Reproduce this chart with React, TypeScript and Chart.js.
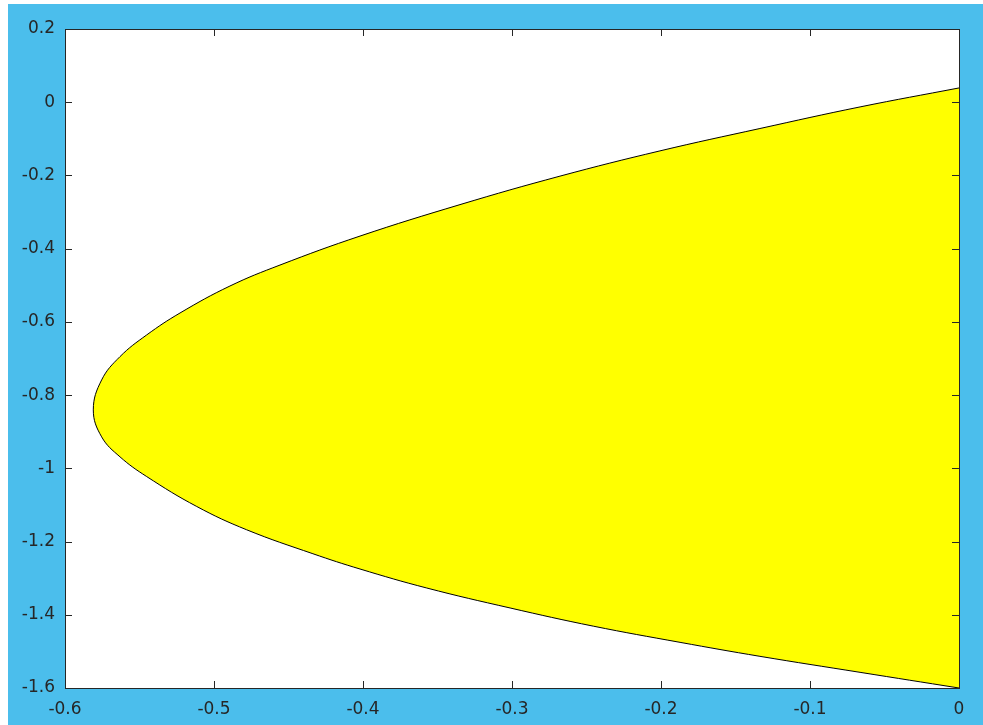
import React, { useEffect, useRef } from "react";
import { Chart, registerables } from "chart.js";

Chart.register(...registerables);

// Upper boundary, from the right edge (x = 0) towards the vertex
const upperX = [0, -0.0664, -0.1336, -0.2007, -0.2678, -0.3349, -0.402, -0.4557, -0.4893, -0.5228, -0.5452, -0.5631, -0.5754, -0.581];
const upperY = [0.039, -0.0128, -0.0718, -0.1329, -0.2019, -0.2797, -0.3656, -0.4447, -0.502, -0.5757, -0.6357, -0.6949, -0.7585, -0.8404];
// Lower boundary, from the vertex back to the right edge
const lowerX = [-0.5754, -0.5631, -0.5452, -0.5116, -0.4781, -0.4336, -0.402, -0.3572, -0.3013, -0.2454, -0.1872, -0.1336, -0.0664, 0];
const lowerY = [-0.9141, -0.9686, -1.0224, -1.1042, -1.1678, -1.2333, -1.275, -1.3269, -1.3814, -1.4311, -1.4753, -1.5135, -1.5572, -1.6];

const xTicks = [-0.6, -0.5, -0.4, -0.3, -0.2, -0.1, 0];
const xTickLabels = ["-0.6", "-0.5", "-0.4", "-0.3", "-0.2", "-0.1", "0"];
const yTicks = [0.2, 0, -0.2, -0.4, -0.6, -0.8, -1, -1.2, -1.4, -1.6];
const yTickLabels = ["0.2", "0", "-0.2", "-0.4", "-0.6", "-0.8", "-1", "-1.2", "-1.4", "-1.6"];

const AXIS_COLOR = "#262626";

const boxPlugin = {
  id: "matlabBox",
  beforeDraw(chart: any) {
    const { ctx, chartArea } = chart;
    ctx.save();
    ctx.fillStyle = "#ffffff";
    ctx.fillRect(chartArea.left, chartArea.top, chartArea.right - chartArea.left, chartArea.bottom - chartArea.top);
    ctx.restore();
  },
  afterDatasetsDraw(chart: any) {
    const { ctx, chartArea } = chart;
    const { left, right, top, bottom } = chartArea;
    const xs = chart.scales.x;
    const ys = chart.scales.y;
    const tl = 7;
    ctx.save();
    ctx.strokeStyle = AXIS_COLOR;
    ctx.lineWidth = 1;
    ctx.beginPath();
    xs.ticks.forEach((t: any) => {
      const px = Math.round(xs.getPixelForValue(t.value)) + 0.5;
      ctx.moveTo(px, bottom);
      ctx.lineTo(px, bottom - tl);
      ctx.moveTo(px, top);
      ctx.lineTo(px, top + tl);
    });
    ys.ticks.forEach((t: any) => {
      const py = Math.round(ys.getPixelForValue(t.value)) + 0.5;
      ctx.moveTo(left, py);
      ctx.lineTo(left + tl, py);
      ctx.moveTo(right, py);
      ctx.lineTo(right - tl, py);
    });
    ctx.stroke();
    ctx.strokeRect(Math.round(left) + 0.5, Math.round(top) + 0.5, Math.round(right - left), Math.round(bottom - top));
    ctx.restore();
  },
};

export default function App() {
  const ref = useRef<HTMLCanvasElement | null>(null);

  useEffect(() => {
    if (!ref.current) return;
    const points = [
      ...upperX.map((x, i) => ({ x, y: upperY[i] })),
      ...lowerX.map((x, i) => ({ x, y: lowerY[i] })),
    ];
    const font = { family: "'DejaVu Sans', sans-serif", size: 17 };
    const chart = new Chart(ref.current, {
      type: "line",
      data: {
        datasets: [
          {
            data: points,
            borderColor: "#000000",
            borderWidth: 1,
            backgroundColor: "#ffff00",
            fill: "shape",
            tension: 0.4,
            pointRadius: 0,
            pointHoverRadius: 0,
          },
        ],
      },
      options: {
        animation: false,
        responsive: false,
        devicePixelRatio: 1,
        events: [],
        layout: { padding: { left: 0, top: 25, right: 24, bottom: 0 } },
        plugins: { legend: { display: false }, tooltip: { enabled: false } },
        scales: {
          x: {
            type: "linear",
            min: -0.6,
            max: 0,
            grid: { display: false, drawTicks: false },
            border: { display: false },
            afterBuildTicks: (s: any) => {
              s.ticks = xTicks.map((v) => ({ value: v }));
            },
            afterFit: (s: any) => {
              s.height = 37;
            },
            ticks: {
              autoSkip: false,
              maxRotation: 0,
              padding: 11,
              color: AXIS_COLOR,
              font,
              callback: (v: any) => {
                const i = xTicks.findIndex((t) => Math.abs(t - v) < 1e-9);
                return i >= 0 ? xTickLabels[i] : "";
              },
            },
          },
          y: {
            type: "linear",
            min: -1.6,
            max: 0.2,
            grid: { display: false, drawTicks: false },
            border: { display: false },
            afterBuildTicks: (s: any) => {
              s.ticks = yTicks.map((v) => ({ value: v }));
            },
            afterFit: (s: any) => {
              s.width = 57;
            },
            ticks: {
              autoSkip: false,
              padding: 10,
              color: AXIS_COLOR,
              font,
              callback: (v: any) => {
                const i = yTicks.findIndex((t) => Math.abs(t - v) < 1e-9);
                return i >= 0 ? yTickLabels[i] : "";
              },
            },
          },
        },
      },
      plugins: [boxPlugin],
    });
    return () => chart.destroy();
  }, []);

  return (
    <div
      style={{
        position: "absolute",
        left: 8,
        top: 4,
        width: 975,
        height: 721,
        background: "#4BBEEC",
      }}
    >
      <canvas ref={ref} width={975} height={721} style={{ display: "block", width: 975, height: 721 }} />
    </div>
  );
}
